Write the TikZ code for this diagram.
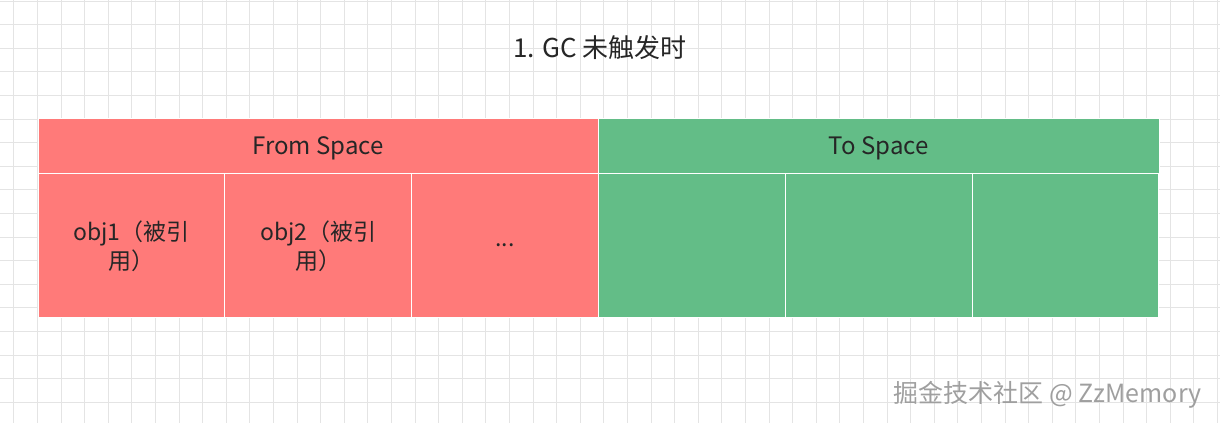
\documentclass[tikz,border=0pt]{standalone}
\usepackage{fontspec}
\setmainfont{Noto Sans CJK SC}
\usetikzlibrary{positioning}

\definecolor{fromred}{HTML}{FF7A79}
\definecolor{togreen}{HTML}{63BD87}
\definecolor{gridgray}{HTML}{E4E4E4}

\begin{document}
\begin{tikzpicture}[x=1pt,y=-1pt,node distance=0pt,
    space/.style={minimum width=560.5pt,minimum height=55pt,inner sep=0pt,outer sep=0pt,text depth=0pt,draw=white,line width=1pt,font=\fontsize{24}{28}\selectfont,text=black!85},
    slot/.style={minimum width=186.83pt,minimum height=144pt,inner sep=0pt,outer sep=0pt,text depth=0pt,draw=white,line width=1pt,align=center,font=\fontsize{23}{29}\selectfont,text=black!85}]

    \useasboundingbox (0,0) rectangle (1220,423);
    \fill[white] (0,0) rectangle (1220,423);

    % background grid
    \foreach \gx in {0,...,51} {
        \draw[gridgray] ({13.5+23.6*\gx},0) -- ({13.5+23.6*\gx},423);
    }
    \foreach \gy in {0,...,17} {
        \draw[gridgray] (0,{0.7+23.6*\gy}) -- (1220,{0.7+23.6*\gy});
    }

    \node[font=\fontsize{26}{30}\selectfont,text=black!85] (title) at (600,48) {1. GC 未触发时};

    \node[space,fill=fromred,anchor=north west] (fromhdr) at (38,118) {From Space};
    \node[space,fill=togreen,right=of fromhdr] (tohdr) {To Space};

    \node[slot,fill=fromred,anchor=north west] (obj1) at (fromhdr.south west) {obj1（被引\\用）};
    \node[slot,fill=fromred,right=of obj1] (obj2) {obj2（被引\\用）};
    \node[slot,fill=fromred,right=of obj2] (dots) {...};

    \foreach \prev/\cur in {dots/to1, to1/to2, to2/to3} {
        \node[slot,fill=togreen,right=of \prev] (\cur) {};
    }

    \node[font=\fontsize{25}{29}\selectfont,text=gray!75,anchor=east] (mark) at (1205,395) {掘金技术社区 @ ZzMemory};

\end{tikzpicture}
\end{document}
